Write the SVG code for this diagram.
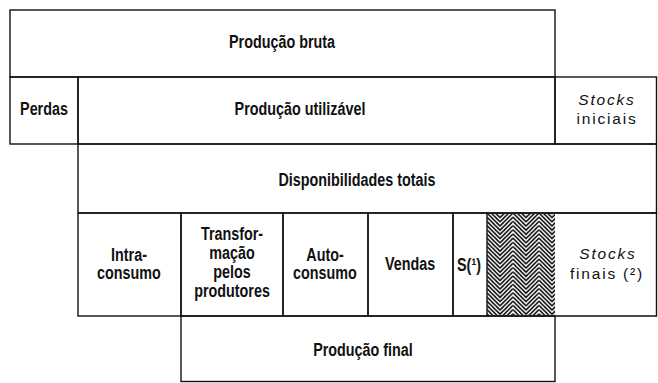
<svg xmlns="http://www.w3.org/2000/svg" width="658" height="383" viewBox="0 0 658 383">
<style>
  .box { fill: none; stroke: #111; stroke-width: 1.4; }
  .t { font-family: "Liberation Sans", Arial, sans-serif; font-weight: bold; font-size: 17.5px; text-anchor: middle; fill: #111; }
  .s { font-family: "Liberation Sans", Arial, sans-serif; font-size: 15.5px; letter-spacing: 1.8px; text-anchor: middle; fill: #111; }
  .i { font-style: italic; }
</style>
<defs>
  <pattern id="zig" patternUnits="userSpaceOnUse" x="487" y="213" width="26" height="4.2">
    <path d="M0,-16.8 L13,-3.8 L26,-16.8 M0,-12.6 L13,0.4 L26,-12.6 M0,-8.4 L13,4.6 L26,-8.4 M0,-4.2 L13,8.8 L26,-4.2 M0,0 L13,13 L26,0 M0,4.2 L13,17.2 L26,4.2" fill="none" stroke="#111" stroke-width="1.6"/>
  </pattern>
</defs>

<g id="producao-bruta">
  <rect class="box" x="10" y="10" width="545" height="67"/>
  <text class="t" transform="translate(282 48) scale(0.82 1)">Produção bruta</text>
</g>
<g id="perdas">
  <rect class="box" x="10" y="77" width="68" height="67"/>
  <text class="t" transform="translate(44 115) scale(0.82 1)">Perdas</text>
</g>
<g id="producao-utilizavel">
  <rect class="box" x="78" y="77" width="477" height="67"/>
  <text class="t" transform="translate(300 115) scale(0.82 1)">Produção utilizável</text>
</g>
<g id="stocks-iniciais">
  <rect class="box" x="555" y="77" width="101.5" height="67"/>
  <text class="s i" x="607" y="105">Stocks</text>
  <text class="s" x="607" y="124">iniciais</text>
</g>
<g id="disponibilidades-totais">
  <rect class="box" x="78" y="144" width="578.5" height="69"/>
  <text class="t" transform="translate(357 186) scale(0.82 1)">Disponibilidades totais</text>
</g>
<g id="intraconsumo">
  <rect class="box" x="78" y="213" width="103" height="103"/>
  <text class="t" transform="translate(129 261) scale(0.82 1)">Intra-</text>
  <text class="t" transform="translate(129 279) scale(0.82 1)">consumo</text>
</g>
<g id="transformacao">
  <rect class="box" x="181" y="213" width="102" height="103"/>
  <text class="t" transform="translate(232 240) scale(0.82 1)">Transfor-</text>
  <text class="t" transform="translate(232 259) scale(0.82 1)">mação</text>
  <text class="t" transform="translate(232 278) scale(0.82 1)">pelos</text>
  <text class="t" transform="translate(232 297) scale(0.82 1)">produtores</text>
</g>
<g id="autoconsumo">
  <rect class="box" x="283" y="213" width="85" height="103"/>
  <text class="t" transform="translate(325 261) scale(0.82 1)">Auto-</text>
  <text class="t" transform="translate(325 279) scale(0.82 1)">consumo</text>
</g>
<g id="vendas">
  <rect class="box" x="368" y="213" width="85" height="103"/>
  <text class="t" transform="translate(410 270) scale(0.82 1)">Vendas</text>
</g>
<g id="s1">
  <rect class="box" x="453" y="213" width="34" height="103"/>
  <text class="t" transform="translate(469 271) scale(0.82 1)">S(¹)</text>
</g>
<g id="hatch">
  <rect x="487" y="213.7" width="68" height="101.6" fill="url(#zig)"/>
</g>
<g id="stocks-finais">
  <path class="box" d="M487,213 H656.5 V316 H487"/>
  <text class="s i" x="608" y="259">Stocks</text>
  <text class="s" x="607" y="279">finais (²)</text>
</g>
<g id="producao-final">
  <rect class="box" x="181" y="316" width="374" height="65.5"/>
  <text class="t" transform="translate(363 356) scale(0.82 1)">Produção final</text>
</g>
<g id="connectors"></g>
</svg>
